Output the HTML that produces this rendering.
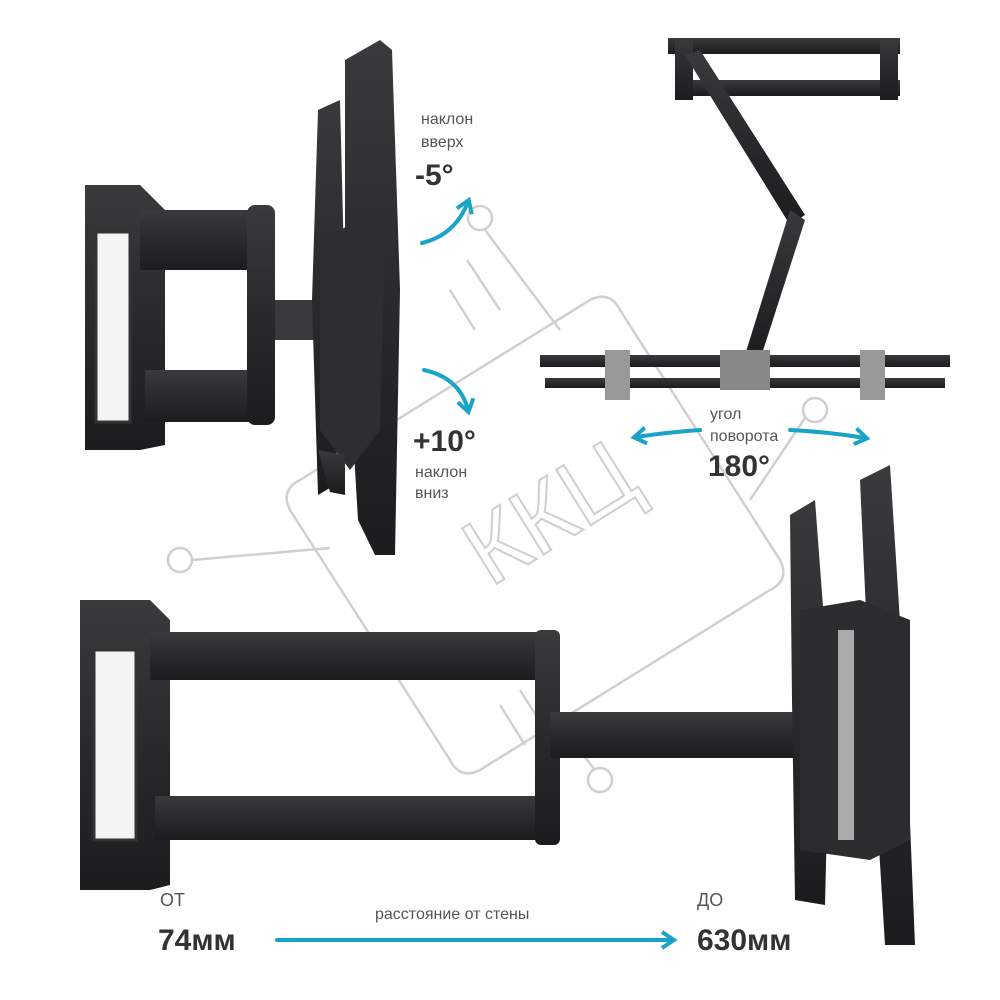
<!DOCTYPE html>
<html><head><meta charset="utf-8"><style>
html,body{margin:0;padding:0;background:#fff;width:1000px;height:1000px;overflow:hidden}
svg text{font-family:"Liberation Sans",sans-serif}
</style></head><body>
<svg width="1000" height="1000" viewBox="0 0 1000 1000" xmlns="http://www.w3.org/2000/svg">
<defs>
<linearGradient id="m" x1="0" x2="0" y1="0" y2="1"><stop offset="0" stop-color="#3a3a3c"/><stop offset="0.5" stop-color="#2a2a2c"/><stop offset="1" stop-color="#1c1c1e"/></linearGradient>
<marker id="ah" viewBox="0 0 10 10" refX="6" refY="5" markerWidth="5" markerHeight="5" orient="auto"><path d="M1,1 L7,5 L1,9" fill="none" stroke="#1aa3c9" stroke-width="2"/></marker>
</defs>
<!-- watermark -->
<g fill="none" stroke="#d0d0d0" stroke-width="2.5">
<path d="M300,480 L590,300 Q610,290 620,310 L780,560 Q790,580 770,590 L480,770 Q460,780 450,760 L290,510 Q280,490 300,480 Z"/>
<circle cx="180" cy="560" r="12"/><line x1="192" y1="560" x2="330" y2="548"/>
<circle cx="480" cy="218" r="12"/><line x1="485" y1="230" x2="560" y2="330"/>
<circle cx="815" cy="410" r="12"/><line x1="805" y1="418" x2="750" y2="500"/>
<circle cx="600" cy="780" r="12"/><line x1="595" y1="770" x2="540" y2="700"/>
<line x1="450" y1="290" x2="475" y2="330"/><line x1="467" y1="260" x2="500" y2="310"/>
<line x1="520" y1="690" x2="545" y2="730"/><line x1="500" y1="705" x2="525" y2="745"/>
<text x="455" y="555" font-size="95" fill="none" stroke="#cfcfcf" stroke-width="2" transform="rotate(-32 530 510)">ККЦ</text>
</g>
<!-- TOP LEFT MOUNT -->
<g fill="url(#m)">
<path d="M85,185 L140,185 L165,210 L165,445 L140,450 L85,450 Z"/>
<rect x="96" y="232" width="34" height="190" fill="#f4f4f4" stroke="#333" stroke-width="3"/>
<rect x="140" y="210" width="120" height="60"/><rect x="145" y="370" width="120" height="52"/>
<rect x="247" y="205" width="28" height="220" rx="8"/>
<rect x="275" y="300" width="65" height="40" fill="#3a3a3c"/>
<path d="M318,110 L340,100 L345,300 L335,485 L318,495 L312,300 Z"/>
<path d="M345,60 L380,40 L392,50 L400,290 L395,555 L375,555 L358,520 L345,300 Z"/>
<path d="M320,240 L360,220 L385,240 L380,430 L350,470 L320,430 Z" fill="#2e2e30"/>
<path d="M318,450 L345,455 L345,495 L330,492 Z"/>
</g>
<!-- TOP RIGHT MOUNT -->
<g fill="url(#m)">
<rect x="668" y="38" width="232" height="16"/>
<rect x="690" y="80" width="210" height="16"/>
<rect x="675" y="38" width="18" height="62"/><rect x="880" y="38" width="18" height="62"/>
<polygon points="685,55 700,50 805,215 790,225"/>
<polygon points="790,210 805,220 760,360 745,355"/>
<rect x="540" y="355" width="410" height="12"/>
<rect x="545" y="378" width="400" height="10"/>
<rect x="720" y="350" width="50" height="40" fill="#888"/>
<rect x="605" y="350" width="25" height="50" fill="#999"/>
<rect x="860" y="350" width="25" height="50" fill="#999"/>
</g>
<!-- BOTTOM MOUNT -->
<g fill="url(#m)">
<path d="M80,600 L150,600 L170,620 L170,885 L150,890 L80,890 Z"/>
<rect x="94" y="650" width="42" height="190" fill="#f4f4f4" stroke="#333" stroke-width="3"/>
<rect x="150" y="632" width="395" height="48"/>
<rect x="155" y="796" width="395" height="44"/>
<rect x="535" y="630" width="25" height="215" rx="6"/>
<rect x="550" y="712" width="280" height="46"/>
<path d="M790,515 L815,500 L830,700 L825,905 L795,900 L792,700 Z"/>
<path d="M860,480 L890,465 L905,700 L915,945 L885,945 L870,700 Z"/>
<path d="M800,610 L860,600 L910,620 L910,840 L870,860 L800,850 Z" fill="#2c2c2e"/>
<rect x="838" y="630" width="16" height="210" fill="#aaa"/>
</g>
<!-- blue arrows -->
<g fill="none" stroke="#1aa3c9" stroke-width="4" stroke-linecap="round">
<path d="M422,243 Q455,235 468,202" marker-end="url(#ah)"/>
<path d="M424,370 Q460,378 468,410" marker-end="url(#ah)"/>
<path d="M700,430 Q670,432 636,437" marker-end="url(#ah)"/>
<path d="M790,430 Q830,432 865,438" marker-end="url(#ah)"/>
<line x1="277" y1="940" x2="672" y2="940" marker-end="url(#ah)"/>
</g>
<!-- text -->
<g fill="#555" font-size="16">
<text x="421" y="124">наклон</text><text x="421" y="147">вверх</text>
<text x="415" y="477">наклон</text><text x="415" y="498">вниз</text>
<text x="710" y="419">угол</text><text x="710" y="441">поворота</text>
<text x="160" y="906" font-size="18">ОТ</text>
<text x="697" y="906" font-size="18">ДО</text>
<text x="375" y="919" font-size="16">расстояние от стены</text>
</g>
<g fill="#333" font-size="30" font-weight="bold">
<text x="415" y="185">-5°</text>
<text x="413" y="451">+10°</text>
<text x="708" y="476">180°</text>
<text x="158" y="950">74мм</text>
<text x="697" y="950">630мм</text>
</g>
</svg>
</body></html>
